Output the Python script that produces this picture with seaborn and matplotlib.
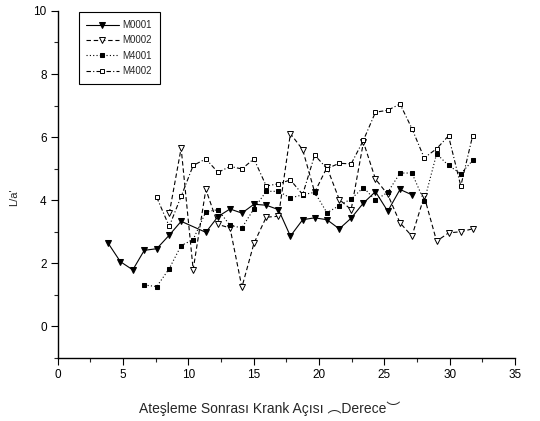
import matplotlib
matplotlib.use("Agg")
import matplotlib.pyplot as plt
import seaborn as sns
import pandas as pd
from matplotlib.ticker import MultipleLocator

# ---- data ----
x_m0001 = [3.83, 4.79, 5.74, 6.62, 7.57, 8.53, 9.44, 11.33, 12.26, 13.18, 14.09, 15.01,
           15.95, 16.89, 17.80, 18.74, 19.66, 20.60, 21.54, 22.45, 23.39, 24.31, 25.25,
           26.19, 27.10]
y_m0001 = [2.65, 2.05, 1.79, 2.41, 2.46, 2.89, 3.33, 2.98, 3.48, 3.72, 3.59, 3.87,
           3.84, 3.70, 2.86, 3.38, 3.44, 3.38, 3.09, 3.43, 3.91, 4.27, 3.65,
           4.34, 4.17]

x_m0002 = [8.53, 9.44, 10.36, 11.33, 12.26, 13.18, 14.09, 15.01, 15.95, 16.89, 17.80,
           18.74, 19.66, 20.60, 21.54, 22.45, 23.39, 24.31, 25.25, 26.19, 27.10, 28.04,
           28.99, 29.90, 30.84, 31.75]
y_m0002 = [3.58, 5.65, 1.80, 4.34, 3.23, 3.12, 1.24, 2.63, 3.46, 3.49, 6.11,
           5.60, 4.25, 5.04, 4.02, 3.70, 5.84, 4.67, 4.18, 3.28, 2.86, 4.12,
           2.70, 2.96, 3.00, 3.09]

x_m4001 = [6.62, 7.57, 8.53, 9.44, 10.36, 11.33, 12.26, 13.18, 14.09, 15.01, 15.95,
           16.89, 17.80, 18.74, 19.66, 20.60, 21.54, 22.45, 23.39, 24.31, 25.25, 26.19,
           27.10, 28.04, 28.99, 29.90, 30.84, 31.75]
y_m4001 = [1.31, 1.26, 1.83, 2.56, 2.75, 3.63, 3.70, 3.20, 3.12, 3.73, 4.28,
           4.28, 4.07, 4.17, 4.25, 3.60, 3.83, 4.04, 4.40, 4.00, 4.25, 4.86,
           4.86, 3.97, 5.47, 5.10, 4.84, 5.26]

x_m4002 = [7.57, 8.53, 9.44, 10.36, 11.33, 12.26, 13.18, 14.09, 15.01, 15.95, 16.89,
           17.80, 18.74, 19.66, 20.60, 21.54, 22.45, 23.39, 24.31, 25.25, 26.19, 27.10,
           28.04, 28.99, 29.90, 30.84, 31.75]
y_m4002 = [4.09, 3.17, 4.12, 5.10, 5.31, 4.88, 5.07, 4.99, 5.31, 4.45, 4.52,
           4.64, 4.18, 5.43, 5.00, 5.17, 5.15, 5.90, 6.79, 6.85, 7.05, 6.27,
           5.34, 5.63, 6.04, 4.45, 6.05]

series_names = ["M0001", "M0002", "M4001", "M4002"]
x_label = "Ateşleme Sonrası Krank Açısı ︵Derece︶"
y_label = "L/a'"

# ---- style ----
sns.set_theme(style="ticks")
plt.rcParams["font.family"] = ["Liberation Sans", "DejaVu Sans", "Noto Sans CJK SC"]

fig = plt.figure(figsize=(5.4, 4.21), dpi=100)
ax = fig.add_axes([0.107, 0.150, 0.847, 0.824])

styles = [
    dict(linestyle="-", marker="v", markersize=5, markerfacecolor="black",
         markeredgecolor="black"),
    dict(linestyle=(0, (4, 2.5)), marker="v", markersize=5, markerfacecolor="white",
         markeredgecolor="black", markeredgewidth=0.7),
    dict(linestyle=(0, (1, 2)), marker="s", markersize=2.2, markerfacecolor="black",
         markeredgecolor="black"),
    dict(linestyle=(0, (4, 2, 1, 2)), marker="s", markersize=2.5, markerfacecolor="white",
         markeredgecolor="black", markeredgewidth=0.7),
]

data = [(x_m0001, y_m0001), (x_m0002, y_m0002), (x_m4001, y_m4001), (x_m4002, y_m4002)]
for name, (xs, ys), st in zip(series_names, data, styles):
    df = pd.DataFrame({"x": xs, "y": ys})
    sns.lineplot(data=df, x="x", y="y", ax=ax, color="black", linewidth=0.8,
                 estimator=None, errorbar=None, sort=False, label=name, **st)

ax.set_xlim(0, 35)
ax.set_ylim(-1, 10)
ax.xaxis.set_major_locator(MultipleLocator(5))
ax.xaxis.set_minor_locator(MultipleLocator(2.5))
ax.yaxis.set_major_locator(MultipleLocator(2))
ax.yaxis.set_minor_locator(MultipleLocator(1))
ax.tick_params(which="major", direction="out", length=5, width=0.8, labelsize=8.5, pad=3,
               colors="black")
ax.tick_params(which="minor", direction="out", length=3, width=0.8)
for s in ["top", "right"]:
    ax.spines[s].set_visible(False)
for s in ["left", "bottom"]:
    ax.spines[s].set_linewidth(1.0)
    ax.spines[s].set_color("black")

ax.set_xlabel(x_label, fontsize=10)
ax.set_ylabel(y_label, fontsize=8)
ax.xaxis.set_label_coords(0.464, -0.125)
ax.yaxis.set_label_coords(-0.085, 0.464)

leg = ax.legend(loc="upper left", bbox_to_anchor=(0.035, 1.01), fontsize=7,
                frameon=True, fancybox=False, edgecolor="black", framealpha=1,
                handlelength=3.3, labelspacing=0.55, borderpad=0.8, handletextpad=0.4)
leg.get_frame().set_linewidth(0.8)

fig.savefig("out.png", dpi=100, facecolor="white")
